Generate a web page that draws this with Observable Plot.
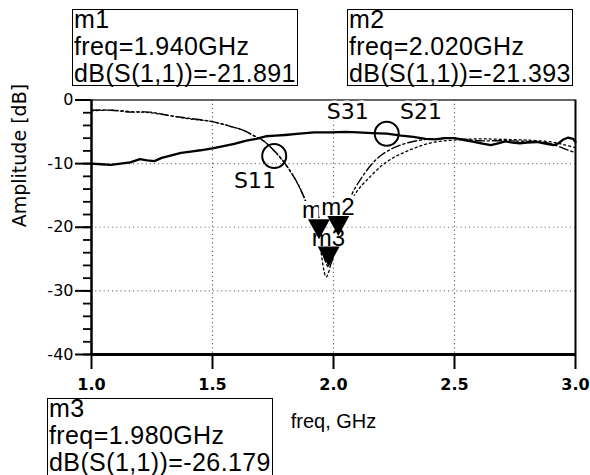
<!DOCTYPE html>
<html><head><meta charset="utf-8">
<script src="https://cdn.jsdelivr.net/npm/d3@7"></script>
<script src="https://cdn.jsdelivr.net/npm/@observablehq/plot@0.6"></script>
<style>
html,body{margin:0;padding:0;background:#fff;overflow:hidden;width:590px;height:475px;}
#wrap{position:relative;width:590px;height:475px;}
.box{position:absolute;box-sizing:border-box;width:226px;height:77px;border:1.5px solid #000;background:#fff;font-family:"Liberation Sans",Arial,sans-serif;font-size:25px;line-height:27px;color:#000;letter-spacing:0.4px;overflow:visible;}
.box .t{position:absolute;left:1px;top:-4px;white-space:pre;}
</style></head><body><div id="wrap"></div>
<script>
// ---- data ----
const freqS21 = [1.00,1.04,1.08,1.12,1.16,1.20,1.23,1.26,1.29,1.33,1.37,1.41,1.45,1.50,1.55,1.59,1.64,1.68,1.72,1.76,1.80,1.86,1.92,1.99,2.05,2.10,2.16,2.22,2.28,2.33,2.38,2.42,2.46,2.50,2.54,2.57,2.61,2.65,2.68,2.71,2.74,2.77,2.80,2.84,2.88,2.91,2.93,2.95,2.97,2.99,3.00];
const dbS21   = [-10.0,-10.1,-10.2,-10.0,-9.8,-9.3,-9.5,-9.6,-9.1,-8.7,-8.3,-8.1,-7.9,-7.6,-7.2,-6.9,-6.4,-6.1,-5.7,-5.6,-5.5,-5.3,-5.1,-5.1,-5.0,-5.1,-5.2,-5.3,-5.6,-5.8,-6.1,-6.2,-6.0,-6.0,-6.3,-6.5,-6.8,-7.1,-6.8,-6.5,-6.7,-6.8,-6.7,-6.6,-6.9,-7.1,-6.8,-6.2,-5.9,-6.1,-6.6];

const freqS11 = [1.00,1.08,1.16,1.24,1.33,1.41,1.50,1.57,1.63,1.67,1.71,1.75,1.78,1.82,1.86,1.90,1.94,1.98,2.02,2.05,2.08,2.12,2.16,2.20,2.25,2.30,2.36,2.42,2.50,2.60,2.70,2.80,2.86,2.90,2.95,3.00];
const dbS11   = [-1.6,-1.6,-1.9,-1.9,-2.5,-2.9,-3.4,-4.1,-4.8,-5.6,-6.4,-7.8,-9.0,-11.1,-13.7,-17.4,-21.9,-26.2,-21.4,-17.5,-14.5,-12.0,-10.0,-8.6,-7.5,-6.8,-6.3,-6.1,-6.0,-6.4,-6.4,-6.5,-6.6,-6.9,-7.6,-8.3];

const freqS31 = [1.00,1.08,1.16,1.24,1.33,1.41,1.50,1.57,1.63,1.67,1.71,1.75,1.78,1.82,1.86,1.90,1.94,1.97,2.00,2.03,2.06,2.10,2.15,2.20,2.25,2.30,2.36,2.42,2.50,2.60,2.70,2.80,2.90,2.95,3.00];
const dbS31   = [-1.7,-1.6,-1.8,-2.0,-2.5,-3.0,-3.4,-4.1,-4.8,-5.6,-6.4,-7.8,-9.1,-11.1,-13.8,-17.5,-22.3,-27.8,-24.0,-20.0,-16.8,-14.2,-12.1,-10.3,-9.0,-8.1,-7.2,-6.6,-6.3,-6.1,-6.2,-6.3,-6.6,-7.0,-7.5];

const markerNames = ["m1","m2","m3"];
const markerFreq  = [1.940, 2.020, 1.980];
const markerDb    = [-21.891, -21.393, -26.179];

const curveLabels = ["S11","S31","S21"];
const labelFreq   = [1.676, 2.059, 2.362];
const labelDb     = [-12.8, -1.9, -1.9];

const circleFreq = [1.755, 2.22];
const circleDb   = [-8.8, -5.3];

const yTicks = [0,-10,-20,-30,-40];
const yMinor = d3.range(-40, 1, 2);
const xTicks = [1.0,1.5,2.0,2.5,3.0];

// ---- chart ----
const downTri = {draw(ctx){ ctx.moveTo(0,0); ctx.lineTo(-11,-20); ctx.lineTo(11,-20); ctx.closePath(); }};

const chart = Plot.plot({
  width: 590, height: 475,
  marginLeft: 91, marginRight: 15, marginTop: 99.5, marginBottom: 121,
  x: {domain: [1, 3]},
  y: {domain: [-40, 0]},
  style: {fontFamily: "DejaVu Sans", background: "#fff", color: "#000"},
  marks: [
    Plot.gridX({ticks: [1.5, 2, 2.5], stroke: "#000", strokeOpacity: 0.6, strokeWidth: 1.2, strokeDasharray: "1.2,3"}),
    Plot.gridY({ticks: [-10, -20, -30], stroke: "#000", strokeOpacity: 0.5, strokeWidth: 1.2, strokeDasharray: "1.2,3"}),
    Plot.axisY({ticks: yMinor, tickSize: 8, tickFormat: () => "", strokeWidth: 1.8, label: null}),
    Plot.axisY({ticks: yTicks, tickSize: 16, tickPadding: 2, tickFormat: d => String(d), fontSize: 16, strokeWidth: 2, label: null}),
    Plot.axisX({ticks: xTicks, tickSize: 15, tickPadding: 9, tickFormat: d3.format(".1f"), fontSize: 16, fontWeight: "bold", strokeWidth: 2, label: null}),
    Plot.ruleY([0], {stroke: "#333", strokeWidth: 1.5}),
    Plot.ruleX([3], {stroke: "#000", strokeWidth: 2}),
    Plot.line(dbS31, {x: freqS31, y: dbS31, stroke: "#000", strokeWidth: 1.3, strokeDasharray: "2,3", curve: "catmull-rom"}),
    Plot.line(dbS11, {x: freqS11, y: dbS11, stroke: "#000", strokeWidth: 1.4, strokeDasharray: "9,3,2,3", curve: "catmull-rom"}),
    Plot.line(dbS21, {x: freqS21, y: dbS21, stroke: "#000", strokeWidth: 2.3}),
    Plot.ruleX([1], {stroke: "#000", strokeWidth: 2.5}),
    Plot.ruleY([-40], {stroke: "#000", strokeWidth: 3}),
    Plot.dot(circleDb, {x: circleFreq, y: circleDb, r: 12, stroke: "#000", strokeWidth: 2, fill: "none"}),
    Plot.text(curveLabels, {x: labelFreq, y: labelDb, text: curveLabels, fontSize: 22, fontFamily: "DejaVu Sans", fill: "#000", stroke: "#fff", strokeWidth: 5, lineAnchor: "middle"}),
    Plot.text(markerNames, {x: markerFreq, y: markerDb, text: markerNames, dx: -17, dy: -21, textAnchor: "start", lineAnchor: "bottom", fontSize: 24, fontFamily: "Liberation Sans", fill: "#000", stroke: "#fff", strokeWidth: 8}),
    Plot.dot(markerDb, {x: markerFreq, y: markerDb, symbol: downTri, r: 10, fill: "#000", stroke: "none"}),
    Plot.text(["Amplitude [dB]"], {frameAnchor: "left", dx: -72, rotate: -90, fontSize: 19, fontFamily: "DejaVu Sans", fill: "#000"}),
    Plot.text(["freq, GHz"], {frameAnchor: "bottom", dy: 73, fontSize: 20, fontFamily: "Liberation Sans", fill: "#000"})
  ]
});
const wrap = document.getElementById("wrap");
wrap.appendChild(chart);

// marker readout boxes
const boxPos = [[72, 9], [347, 9], [47, 398]];
markerNames.forEach((name, i) => {
  const b = document.createElement("div");
  b.className = "box";
  b.style.left = boxPos[i][0] + "px";
  b.style.top = boxPos[i][1] + "px";
  if (i === 2) b.style.height = "90px";
  const t = document.createElement("div");
  t.className = "t";
  t.textContent = `${name}\nfreq=${markerFreq[i].toFixed(3)}GHz\ndB(S(1,1))=${markerDb[i].toFixed(3)}`;
  b.appendChild(t);
  wrap.appendChild(b);
});
</script></body></html>
